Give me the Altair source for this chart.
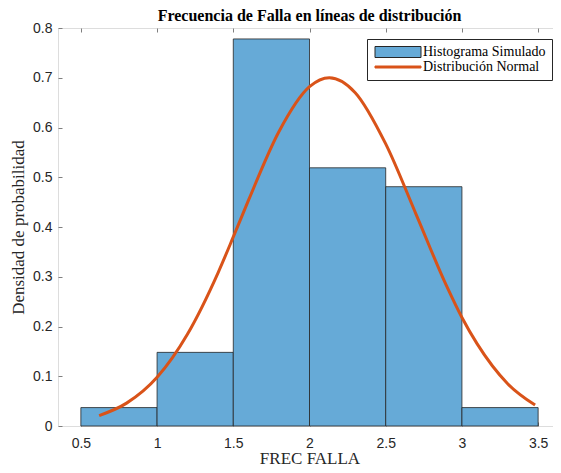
import altair as alt
import pandas as pd

# Histogram (density) bins
bin_start = [0.5, 1.0, 1.5, 2.0, 2.5, 3.0]
bin_end = [1.0, 1.5, 2.0, 2.5, 3.0, 3.5]
density = [0.037, 0.148, 0.778, 0.519, 0.481, 0.037]

# Normal curve points
curve_x = [0.62, 0.8, 1.0, 1.2, 1.4, 1.5, 1.6, 1.8, 2.0, 2.13, 2.3, 2.5, 2.7, 2.9, 3.0, 3.1, 3.3, 3.48]
curve_y = [0.021, 0.046, 0.098, 0.185, 0.308, 0.380, 0.454, 0.592, 0.682, 0.700, 0.670, 0.567, 0.425, 0.281, 0.218, 0.165, 0.085, 0.042]

x_ticks = [0.5, 1, 1.5, 2, 2.5, 3, 3.5]
y_ticks = [0, 0.1, 0.2, 0.3, 0.4, 0.5, 0.6, 0.7, 0.8]

series = ["Histograma Simulado", "Distribución Normal"]
fills = ["#66AAD7", "#D95319"]
strokes = ["#262626", "#D95319"]
rect_path = "M-4.6,-1.1H4.6V1.1H-4.6Z"
line_path = "M-4.6,-0.2H4.6V0.2H-4.6Z"

bars_df = pd.DataFrame({"start": bin_start, "end": bin_end, "density": density})
curve_df = pd.DataFrame({"x": curve_x, "y": curve_y})
legend_df = pd.DataFrame({"serie": series})

xscale = alt.Scale(domain=[0.35, 3.65], nice=False, zero=False)
yscale = alt.Scale(domain=[0, 0.8], nice=False)
fill_scale = alt.Scale(domain=series, range=fills)
stroke_scale = alt.Scale(domain=series, range=strokes)
shape_scale = alt.Scale(domain=series, range=[rect_path, line_path])

TICK = 4
label_axis = dict(labelFont="Liberation Sans", labelFontSize=14, labelColor="#262626",
                  titleFont="Liberation Serif", titleFontSize=17, titleFontWeight="normal",
                  titleColor="#262626", tickColor="#7f7f7f", tickSize=TICK, offset=-TICK,
                  domain=False, grid=False, format="~f")

legend = alt.Legend(
    orient="none", legendX=309, legendY=11, title=None, direction="vertical",
    fillColor="white", strokeColor="#262626", padding=6,
    symbolSize=100, symbolOpacity=1, symbolStrokeWidth=1, symbolOffset=18,
    labelFont="Liberation Serif", labelFontSize=14, labelColor="black",
    rowPadding=0, labelOffset=18,
)

bars = alt.Chart(bars_df).mark_bar(color=fills[0], stroke=strokes[0], strokeWidth=0.8, opacity=1).encode(
    x=alt.X("start:Q", scale=xscale,
            axis=alt.Axis(orient="bottom", values=x_ticks, title="FREC FALLA",
                          labelPadding=10, titlePadding=0, **label_axis)),
    x2="end:Q",
    y=alt.Y("density:Q", scale=yscale,
            axis=alt.Axis(orient="left", values=y_ticks, title="Densidad de probabilidad",
                          labelPadding=6, titlePadding=5, **label_axis)),
    y2=alt.datum(0),
)

mirror = dict(tickColor="#7f7f7f", tickSize=TICK, offset=-TICK, domain=False, grid=False,
              labels=False, title=None)

line = alt.Chart(curve_df).mark_line(color=fills[1], strokeWidth=3, interpolate="monotone").encode(
    x=alt.X("x:Q", scale=xscale, axis=alt.Axis(orient="top", values=x_ticks, **mirror)),
    y=alt.Y("y:Q", scale=yscale, axis=alt.Axis(orient="right", values=y_ticks, **mirror)),
)

legend_layer = alt.Chart(legend_df).mark_point(filled=True, size=0, opacity=0).encode(
    fill=alt.Fill("serie:N", scale=fill_scale, legend=legend),
    stroke=alt.Stroke("serie:N", scale=stroke_scale, legend=legend),
    shape=alt.Shape("serie:N", scale=shape_scale, legend=legend),
)

chart = alt.layer(bars, line, legend_layer).resolve_axis(x="independent", y="independent").properties(
    width=503, height=398,
    title=alt.Title("Frecuencia de Falla en líneas de distribución", font="Liberation Serif",
                    fontSize=16, fontWeight="bold", color="black", anchor="middle",
                    frame="group", offset=-3),
    autosize=alt.AutoSizeParams(type="none"),
    padding={"left": 50, "top": 20, "right": -8, "bottom": 39},
).configure_view(stroke="#7f7f7f", strokeWidth=1).configure(background="white")

chart.save("out.html", embed_options={"renderer": "svg", "actions": False})
